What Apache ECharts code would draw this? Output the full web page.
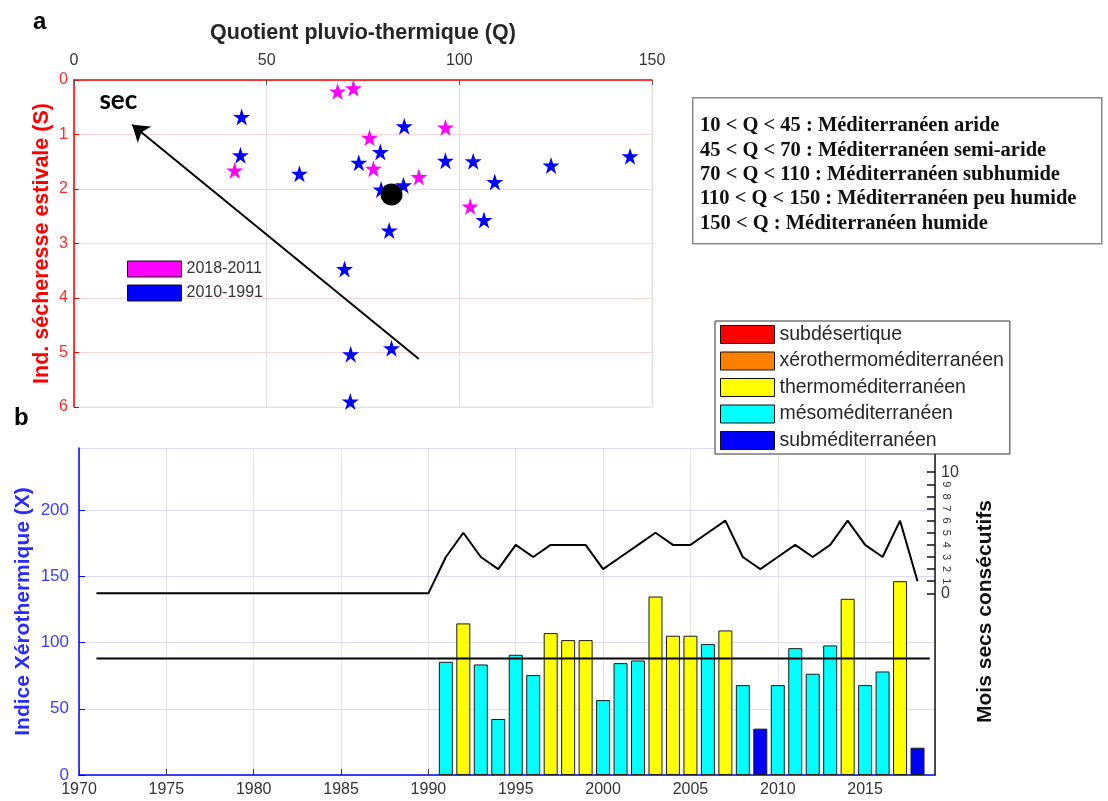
<!DOCTYPE html>
<html>
<head>
<meta charset="utf-8">
<script src="https://cdn.jsdelivr.net/npm/echarts@6/dist/echarts.min.js"></script>
<style>html,body{margin:0;padding:0;background:#fff}#c{width:1108px;height:801px}</style>
</head>
<body>
<div id="c"></div>
<script>
// ---------- Panel a : scatter Q vs S ----------
const recentQ = [68.4, 72.5, 76.7, 96.4, 41.7, 77.7, 89.5, 102.8];
const recentS = [0.21, 0.15, 1.06, 0.87, 1.66, 1.63, 1.78, 2.32];
const olderQ = [43.5, 85.7, 43.2, 58.5, 73.9, 79.5, 96.4, 103.6, 123.8, 144.3, 109.2, 79.7, 85.5, 106.4, 81.8, 70.2, 71.8, 82.4, 71.7];
const olderS = [0.68, 0.85, 1.38, 1.72, 1.52, 1.32, 1.48, 1.49, 1.57, 1.40, 1.87, 2.01, 1.93, 2.57, 2.76, 3.47, 5.03, 4.92, 5.90];
const meanPoint = [82.4, 2.10];
const arrowStart = [89.5, 5.12];
const arrowEnd = [15.1, 0.82];
const secLabelPos = [11.5, 0.37];

// ---------- Panel b : Xerothermic index ----------
const years = [1991,1992,1993,1994,1995,1996,1997,1998,1999,2000,2001,2002,2003,2004,2005,2006,2007,2008,2009,2010,2011,2012,2013,2014,2015,2016,2017,2018];
const xeroValues = [85.5,114.5,83.5,42.3,90.8,75.5,107.2,101.9,101.9,56.6,84.5,86.5,134.8,105.2,105.2,98.9,109.2,67.9,35.0,67.9,95.8,76.5,97.9,133.1,67.9,78.2,146.4,20.6];
const bioclimates = ['mésoméditerranéen','thermoméditerranéen','mésoméditerranéen','mésoméditerranéen','mésoméditerranéen','mésoméditerranéen','thermoméditerranéen','thermoméditerranéen','thermoméditerranéen','mésoméditerranéen','mésoméditerranéen','mésoméditerranéen','thermoméditerranéen','thermoméditerranéen','thermoméditerranéen','mésoméditerranéen','thermoméditerranéen','mésoméditerranéen','subméditerranéen','mésoméditerranéen','mésoméditerranéen','mésoméditerranéen','mésoméditerranéen','thermoméditerranéen','mésoméditerranéen','mésoméditerranéen','thermoméditerranéen','subméditerranéen'];
const lineYears = [1971,1972,1973,1974,1975,1976,1977,1978,1979,1980,1981,1982,1983,1984,1985,1986,1987,1988,1989,1990,1991,1992,1993,1994,1995,1996,1997,1998,1999,2000,2001,2002,2003,2004,2005,2006,2007,2008,2009,2010,2011,2012,2013,2014,2015,2016,2017,2018];
const drySpellMonths = [0,0,0,0,0,0,0,0,0,0,0,0,0,0,0,0,0,0,0,0,3,5,3,2,4,3,4,4,4,2,3,4,5,4,4,5,6,3,2,3,4,3,4,6,4,3,6,1];
const meanLineX = [1971, 2018.7];
const meanXero = 88;
const classNames = ['subdésertique','xérothermoméditerranéen','thermoméditerranéen','mésoméditerranéen','subméditerranéen'];
const classColors = ['#ff0000','#ff8000','#ffff00','#00ffff','#0000ff'];
const monthTicks = [0,1,2,3,4,5,6,7,8,9,10];

const starPath = 'path://M0,-100L22.45,-30.9L95.1,-30.9L36.3,11.8L58.8,80.9L0,38.2L-58.8,80.9L-36.3,11.8L-95.1,-30.9L-22.45,-30.9Z';
const FONT = 'Liberation Sans, Arial, sans-serif';

const chart = echarts.init(document.getElementById('c'));

const barSeries = classNames.map((name, ci) => ({
  name: name,
  type: 'bar',
  xAxisIndex: 1, yAxisIndex: 1,
  barWidth: 14,
  barGap: '-100%',
  itemStyle: { color: classColors[ci], borderColor: '#1a1a1a', borderWidth: 1 },
  data: years.map((y, i) => bioclimates[i] === name ? [y, xeroValues[i]] : null).filter(d => d),
  z: 2
}));

const option = {
  animation: false,
  textStyle: { fontFamily: FONT },
  grid: [
    { left: 74, top: 80, width: 578, height: 327, show: true, borderColor: '#e3e3e3', borderWidth: 1 },
    { left: 79, top: 448, width: 856, height: 327 }
  ],
  xAxis: [
    {
      gridIndex: 0, type: 'value', position: 'top', min: 0, max: 150, interval: 50,
      name: 'Quotient pluvio-thermique (Q)', nameLocation: 'middle', nameGap: 36, nameMoveOverlap: false,
      nameTextStyle: { fontSize: 21.5, fontWeight: 'bold', color: '#262626', fontFamily: FONT },
      axisLine: { show: true, lineStyle: { color: '#ff0000', width: 1.5 } },
      axisTick: { show: true, inside: true, length: 5, lineStyle: { color: '#555' } },
      axisLabel: { color: '#333', fontSize: 16, margin: 11, fontFamily: FONT },
      splitLine: { show: true, lineStyle: { color: '#e0e0e0' } }
    },
    {
      gridIndex: 1, type: 'value', min: 1970, max: 2019, interval: 5,
      axisLine: { show: true, onZero: false, lineStyle: { color: '#0000ff', width: 1.5 } },
      axisTick: { show: true, inside: true, length: 6, lineStyle: { color: '#333' } },
      axisLabel: { color: '#333', fontSize: 16, margin: 7, showMaxLabel: false, fontFamily: FONT, formatter: v => String(v) },
      splitLine: { show: true, lineStyle: { color: '#e3e3e3' } }
    }
  ],
  yAxis: [
    {
      gridIndex: 0, type: 'value', inverse: true, min: 0, max: 6, interval: 1,
      name: 'Ind. sécheresse estivale (S)', nameLocation: 'middle', nameGap: 21, nameRotate: 90, nameMoveOverlap: false,
      nameTextStyle: { fontSize: 21.5, fontWeight: 'bold', color: '#ff0000', fontFamily: FONT },
      axisLine: { show: true, lineStyle: { color: '#ff0000', width: 1.5 } },
      axisTick: { show: true, inside: true, length: 5, lineStyle: { color: '#ff0000' } },
      axisLabel: { color: '#ff2a2a', fontSize: 16, margin: 6, fontFamily: FONT },
      splitLine: { show: true, lineStyle: { color: '#ffd6d6' } }
    },
    {
      gridIndex: 1, type: 'value', min: 0, max: 247, interval: 50,
      name: 'Indice Xérothermique (X)', nameLocation: 'middle', nameGap: 45, nameRotate: 90, nameMoveOverlap: false,
      nameTextStyle: { fontSize: 21, fontWeight: 'bold', color: '#2a2aff', fontFamily: FONT },
      axisLine: { show: true, lineStyle: { color: '#0000ff', width: 1.5 } },
      axisTick: { show: true, inside: true, length: 6, lineStyle: { color: '#0000ff' } },
      axisLabel: { color: '#3b3bff', fontSize: 17, margin: 10, showMaxLabel: false, fontFamily: FONT },
      splitLine: { show: true, lineStyle: { color: '#dcdcff' } }
    },
    {
      gridIndex: 1, type: 'value', position: 'right', min: -15, max: 12,
      name: 'Mois secs consécutifs', nameLocation: 'middle', nameGap: 40, nameRotate: 90, nameMoveOverlap: false,
      nameTextStyle: { fontSize: 21, fontWeight: 'bold', color: '#111', fontFamily: FONT },
      axisLine: { show: true, lineStyle: { color: '#111', width: 1.5 } },
      axisTick: { show: true, inside: true, length: 8, customValues: monthTicks, lineStyle: { color: '#111', width: 1.5 } },
      axisLabel: { show: true, customValues: [0, 10], color: '#333', fontSize: 16, margin: 6, fontFamily: FONT },
      splitLine: { show: false }
    },
    {
      gridIndex: 1, type: 'value', position: 'right', min: -15, max: 12,
      axisLine: { show: false },
      axisTick: { show: false },
      axisLabel: { show: true, customValues: monthTicks.slice(1, 10), rotate: -90, color: '#333', fontSize: 11, margin: 6, fontFamily: FONT },
      splitLine: { show: false }
    }
  ],
  legend: [
    {
      orient: 'vertical', left: 127, top: 260, itemWidth: 54, itemHeight: 16, itemGap: 6, padding: 0,
      icon: 'rect',
      itemStyle: { borderColor: '#111', borderWidth: 1 },
      textStyle: { fontSize: 16, lineHeight: 18, color: '#333', fontFamily: FONT },
      data: [{ name: '2018-2011', icon: 'rect' }, { name: '2010-1991', icon: 'rect' }],
      selectedMode: false
    },
    {
      orient: 'vertical', left: 715, top: 321, itemWidth: 54, itemHeight: 18, itemGap: 5.5, padding: [3, 6, 3, 5],
      icon: 'rect', backgroundColor: '#fff', borderColor: '#333', borderWidth: 1,
      itemStyle: { borderColor: '#111', borderWidth: 1 },
      textStyle: { fontSize: 19.5, lineHeight: 21, color: '#262626', fontFamily: FONT },
      data: classNames.map(n => ({ name: n, icon: 'rect' })),
      selectedMode: false, z: 10
    }
  ],
  graphic: [
    { type: 'text', left: 33, top: 10, style: { text: 'a', fontSize: 24, fontWeight: 'bold', fill: '#000', fontFamily: FONT } },
    { type: 'text', left: 14, top: 406, style: { text: 'b', fontSize: 24, fontWeight: 'bold', fill: '#000', fontFamily: FONT } },
    { type: 'rect', left: 692, top: 97, shape: { width: 409, height: 146 }, style: { fill: '#fff', stroke: '#8a8a8a', lineWidth: 1.5 } },
    { type: 'text', left: 700, top: 114, style: {
      text: '10 < Q < 45 : Méditerranéen aride\n45 < Q < 70 : Méditerranéen semi-aride\n70 < Q < 110 : Méditerranéen subhumide\n110 < Q < 150 : Méditerranéen peu humide\n150 < Q : Méditerranéen humide',
      fontSize: 20.5, fontWeight: 'bold', lineHeight: 24.3, fill: '#111', fontFamily: 'Liberation Serif, Times New Roman, serif' } }
  ],
  series: [
    {
      name: '2018-2011', type: 'scatter', xAxisIndex: 0, yAxisIndex: 0,
      symbol: starPath, symbolSize: 17, itemStyle: { color: '#ff00ff', opacity: 1 },
      data: recentQ.map((q, i) => [q, recentS[i]]), z: 3
    },
    {
      name: '2010-1991', type: 'scatter', xAxisIndex: 0, yAxisIndex: 0,
      symbol: starPath, symbolSize: 17, itemStyle: { color: '#0000ff', opacity: 1 },
      data: olderQ.map((q, i) => [q, olderS[i]]), z: 3
    },
    {
      name: 'moyenne', type: 'scatter', xAxisIndex: 0, yAxisIndex: 0,
      symbol: 'circle', symbolSize: 22, itemStyle: { color: '#000', opacity: 1 },
      data: [meanPoint], z: 4
    },
    {
      name: 'fleche', type: 'line', xAxisIndex: 0, yAxisIndex: 0,
      symbol: 'none', lineStyle: { width: 0, opacity: 0 }, data: [],
      markLine: {
        silent: true, symbol: ['none', 'arrow'], symbolSize: 16,
        lineStyle: { color: '#000', width: 2, type: 'solid', opacity: 1 },
        itemStyle: { color: '#000' },
        label: { show: false },
        data: [[{ coord: arrowStart }, { coord: arrowEnd }]]
      }
    },
    {
      name: 'sec', type: 'scatter', xAxisIndex: 0, yAxisIndex: 0,
      symbolSize: 0, data: [secLabelPos], itemStyle: { opacity: 1 },
      label: { show: true, position: 'inside', formatter: 'sec', fontSize: 26, fontWeight: 'bold', color: '#000', fontFamily: 'Lato, Open Sans, sans-serif' }
    },
    ...barSeries,
    {
      name: 'moyenneX', type: 'line', xAxisIndex: 1, yAxisIndex: 1,
      symbol: 'none', lineStyle: { color: '#000', width: 2 },
      data: meanLineX.map(x => [x, meanXero]), z: 5
    },
    {
      name: 'Mois secs', type: 'line', xAxisIndex: 1, yAxisIndex: 2,
      symbol: 'none', lineStyle: { color: '#000', width: 2 },
      data: lineYears.map((y, i) => [y, drySpellMonths[i]]), z: 5
    }
  ]
};
chart.setOption(option);
</script>
</body>
</html>
